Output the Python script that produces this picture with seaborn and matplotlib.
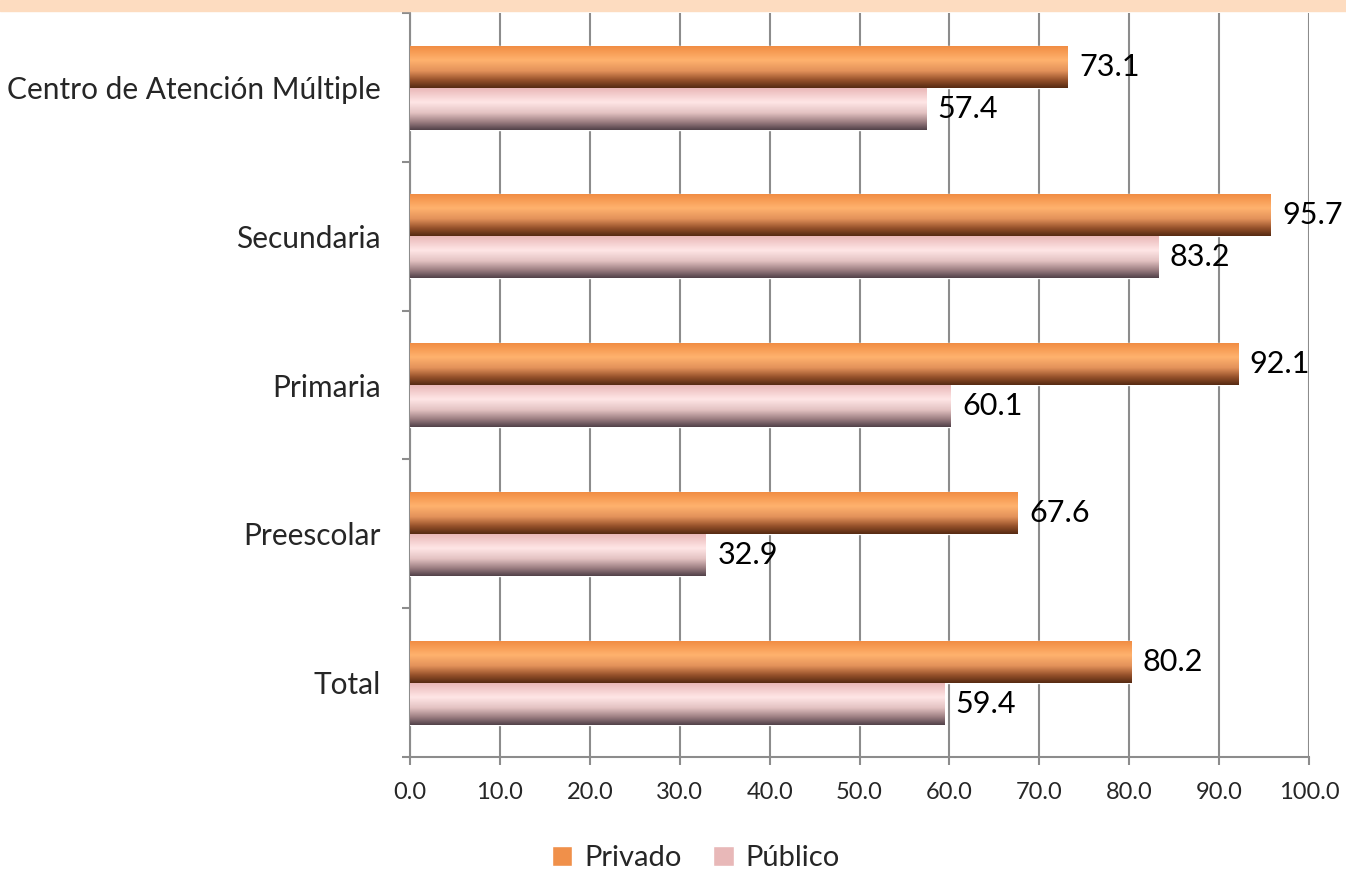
import numpy as np
import pandas as pd
import matplotlib
matplotlib.use("Agg")
import matplotlib.pyplot as plt
import seaborn as sns
from matplotlib.colors import LinearSegmentedColormap
from matplotlib.patches import Patch

# data
categorias = ["Centro de Atención Múltiple", "Secundaria", "Primaria", "Preescolar", "Total"]
privado = [73.1, 95.7, 92.1, 67.6, 80.2]
publico = [57.4, 83.2, 60.1, 32.9, 59.4]
series = ["Privado", "Público"]

df = pd.DataFrame({
    "categoria": categorias * 2,
    "valor": privado + publico,
    "sector": [series[0]] * len(categorias) + [series[1]] * len(categorias),
})

sns.set_style("white")
plt.rcParams["font.family"] = ["Lato", "DejaVu Sans"]
plt.rcParams["xtick.bottom"] = True
plt.rcParams["ytick.left"] = True

fig = plt.figure(figsize=(13.46, 8.71), dpi=100)
ax = fig.add_axes([0.3046, 0.1309, 0.668, 0.854])

# band at top
fig.patches.append(plt.Rectangle((0, 1 - 11 / 871), 1, 11 / 871, transform=fig.transFigure,
                                 color="#FDDCC0", zorder=0))

sns.barplot(data=df, y="categoria", x="valor", hue="sector", order=categorias,
            hue_order=series, palette=["#F0904A", "#E8B8B8"], width=0.565,
            orient="h", ax=ax, legend=False, zorder=3)

# gradient fills clipped to each bar
cm_priv = LinearSegmentedColormap.from_list("priv", [
    (0.0, "#F08A40"), (0.35, "#FFB26E"), (0.6, "#E3925A"), (0.82, "#94502A"), (1.0, "#552A12")])
cm_pub = LinearSegmentedColormap.from_list("pub", [
    (0.0, "#E8B4B4"), (0.35, "#FFE6E6"), (0.6, "#E3C2C2"), (0.82, "#9A7C80"), (1.0, "#504048")])
grad = np.linspace(0, 1, 256).reshape(-1, 1)
n = len(categorias)
for i, p in enumerate(ax.patches[:2 * n]):
    cmap = cm_priv if i < n else cm_pub
    x0, y0 = p.get_x(), p.get_y()
    w, h = p.get_width(), p.get_height()
    im = ax.imshow(grad, cmap=cmap, aspect="auto", extent=[x0, x0 + w, y0 + h, y0],
                   zorder=3.5, interpolation="bicubic")
    im.set_clip_path(p)
    ax.text(x0 + w + 1.3, y0 + h / 2, f"{w:.1f}", va="center", ha="left",
            fontsize=22, color="black", zorder=5)

ax.set_xlim(0, 100)
ax.set_ylim(n - 0.5, -0.5)
ax.set_xticks(np.arange(0, 101, 10))
ax.set_xticklabels([f"{v:.1f}" for v in np.arange(0, 101, 10)], fontsize=17)
ax.xaxis.grid(True, color="#8C8C8C", linewidth=1.5, zorder=1)
ax.set_axisbelow(True)
ax.set_yticks(range(n))
ax.set_yticklabels(categorias, fontsize=21.5)
ax.set_yticks(np.arange(-0.5, n, 1), minor=True)
ax.tick_params(axis="y", which="major", length=0, pad=21)
ax.tick_params(axis="y", which="minor", length=6, width=1.5, color="#8C8C8C")
ax.tick_params(axis="x", length=6, width=1.5, color="#8C8C8C", pad=12)
ax.set_xlabel("")
ax.set_ylabel("")
for s in ["top", "right"]:
    ax.spines[s].set_visible(False)
for s in ["left", "bottom"]:
    ax.spines[s].set_color("#8C8C8C")
    ax.spines[s].set_linewidth(1.5)

handles = [Patch(facecolor="#F0904A"), Patch(facecolor="#E8B8B8")]
fig.legend(handles, series, loc="center", bbox_to_anchor=(0.517, 0.015), ncol=2,
           frameon=False, fontsize=21, handlelength=0.7, handleheight=0.7,
           handletextpad=0.4, columnspacing=1.1)

fig.savefig("out.png", dpi=100)
